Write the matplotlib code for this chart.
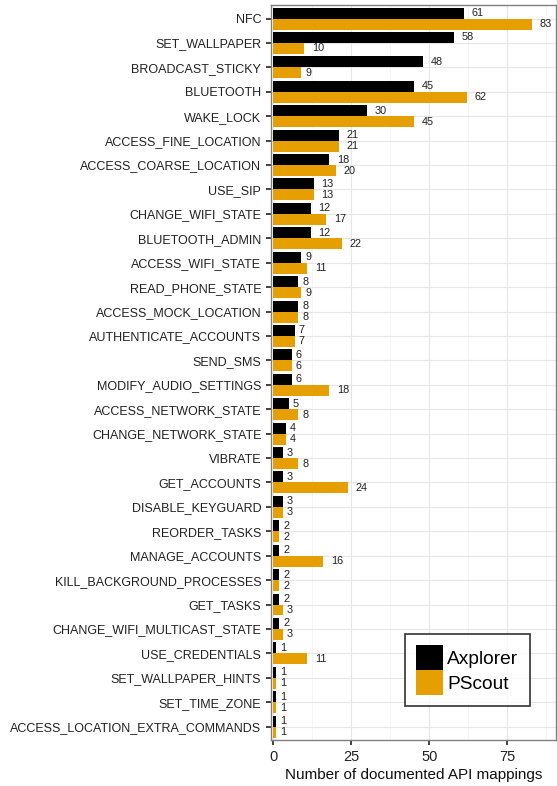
import matplotlib.pyplot as plt
import numpy as np

plt.rcParams['font.family'] = ['Liberation Sans', 'DejaVu Sans']

permissions = [
    "NFC", "SET_WALLPAPER", "BROADCAST_STICKY", "BLUETOOTH", "WAKE_LOCK",
    "ACCESS_FINE_LOCATION", "ACCESS_COARSE_LOCATION", "USE_SIP",
    "CHANGE_WIFI_STATE", "BLUETOOTH_ADMIN", "ACCESS_WIFI_STATE",
    "READ_PHONE_STATE", "ACCESS_MOCK_LOCATION", "AUTHENTICATE_ACCOUNTS",
    "SEND_SMS", "MODIFY_AUDIO_SETTINGS", "ACCESS_NETWORK_STATE",
    "CHANGE_NETWORK_STATE", "VIBRATE", "GET_ACCOUNTS", "DISABLE_KEYGUARD",
    "REORDER_TASKS", "MANAGE_ACCOUNTS", "KILL_BACKGROUND_PROCESSES",
    "GET_TASKS", "CHANGE_WIFI_MULTICAST_STATE", "USE_CREDENTIALS",
    "SET_WALLPAPER_HINTS", "SET_TIME_ZONE", "ACCESS_LOCATION_EXTRA_COMMANDS",
]
axplorer = [61, 58, 48, 45, 30, 21, 18, 13, 12, 12, 9, 8, 8, 7, 6, 6, 5, 4,
            3, 3, 3, 2, 2, 2, 2, 2, 1, 1, 1, 1]
pscout = [83, 10, 9, 62, 45, 21, 20, 13, 17, 22, 11, 9, 8, 7, 6, 18, 8, 4,
          8, 24, 3, 2, 16, 2, 3, 3, 11, 1, 1, 1]

series_names = ["Axplorer", "PScout"]
colors = ["#000000", "#E69F00"]

fig = plt.figure(figsize=(5.57, 7.86), dpi=100)
ax = fig.add_axes([0.4865, 0.0585, 0.511, 0.935])

n = len(permissions)
y = np.arange(n)[::-1]
h = 0.45

for vals, off, col, name in [(axplorer, h / 2, colors[0], series_names[0]),
                             (pscout, -h / 2, colors[1], series_names[1])]:
    ax.barh(y + off, vals, height=h, color=col, label=name, zorder=3)
    for yy, v in zip(y + off, vals):
        pad = 2.8 * len(str(v))
        ax.annotate(str(v), (v, yy), xytext=(pad, 0), textcoords="offset points",
                    ha="left", va="center", fontsize=7.8, color="#222222", zorder=4)

ax.set_xlim(-0.7, 90.5)
ax.set_ylim(-0.55, n - 0.45)
ax.set_yticks(y)
ax.set_yticklabels(permissions, fontsize=9, color="#222222")
ax.set_xticks([0, 25, 50, 75])
ax.set_xticks([12.5, 37.5, 62.5, 87.5], minor=True)
ax.tick_params(axis="x", labelsize=10.5, colors="#222222", length=3.5, width=1.2)
ax.tick_params(axis="x", which="minor", length=0)
ax.tick_params(axis="y", length=3.5, width=1.2, colors="#222222")
ax.grid(which="major", color="#e6e6e6", linewidth=0.8, zorder=0)
ax.grid(which="minor", axis="x", color="#f2f2f2", linewidth=0.5, zorder=0)
for s in ax.spines.values():
    s.set_color("#808080")
    s.set_linewidth(1.0)
ax.set_xlabel("Number of documented API mappings", fontsize=11, color="#111111",
              labelpad=3)

leg = ax.legend(loc="lower right", bbox_to_anchor=(0.909, 0.046), fontsize=13.8,
                frameon=True, fancybox=False, edgecolor="black",
                handlelength=1.4, handleheight=1.6, handletextpad=0.2,
                labelspacing=0.0, borderpad=0.6, borderaxespad=0)
leg.get_frame().set_linewidth(1.2)

fig.savefig("out.png", dpi=100)
